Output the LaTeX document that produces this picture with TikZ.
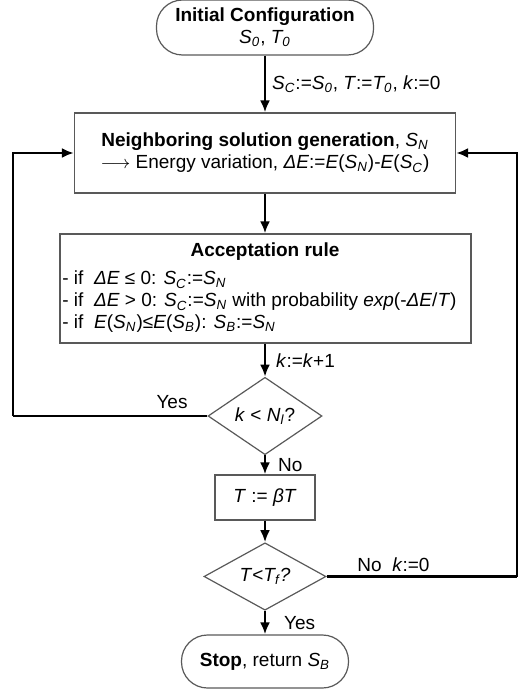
\documentclass[tikz,border=0pt]{standalone}
\usepackage{fontspec}
\setmainfont{Liberation Sans}
\usetikzlibrary{positioning,shapes.geometric,arrows.meta}
\newcommand{\vsub}[2]{\textit{#1\textsubscript{#2}}}
\tikzset{
  every node/.style={font=\fontsize{9.5}{11}\selectfont},
  terminal/.style={draw=black!65, line width=0.6pt, rounded corners=13pt, align=center, inner sep=0pt},
  process/.style={draw=black!65, line width=0.6pt, align=center, inner sep=0pt},
  decision/.style={diamond, draw=black!65, line width=0.6pt, inner sep=0pt},
  flow/.style={line width=1.2pt, -{Latex[length=6pt,width=5pt]}},
  loop/.style={line width=1.2pt},
  tag/.style={inner sep=0pt}
}

\begin{document}
\begin{tikzpicture}[x=0.5pt, y=-0.5pt]
    \useasboundingbox (0,0) rectangle (518,690);

    \node (init) [terminal, minimum width=108.5pt, minimum height=27.5pt] at (265,27.5)
        {\textbf{Initial Configuration}\\ \vsub{S}{0}, \vsub{T}{0}};
    \node (neigh) [process, minimum width=190.5pt, minimum height=40pt] at (265,153)
        {\textbf{Neighboring solution generation}, \vsub{S}{N}\\
         $\longrightarrow$ Energy variation, \textit{ΔE}:=\textit{E}(\vsub{S}{N})-\textit{E}(\vsub{S}{C})};
    \node (rule) [process, minimum width=205.5pt, minimum height=54.5pt] at (265.5,288.5) {};
    \node (ruletitle) [tag] at (265,252) {\textbf{Acceptation rule}};
    \node (ruletext) [tag, anchor=west, align=left] at (62,302)
        {- if\ \ \textit{ΔE} ≤ 0: \vsub{S}{C}:=\vsub{S}{N}\\
         - if\ \ \textit{ΔE} > 0: \vsub{S}{C}:=\vsub{S}{N} with probability \textit{exp}(-\textit{ΔE}/\textit{T})\\
         - if\ \ \textit{E}(\vsub{S}{N})≤\textit{E}(\vsub{S}{B}): \vsub{S}{B}:=\vsub{S}{N}};
    \node (inner) [decision, minimum width=57pt, minimum height=24pt] at (265,416)
        {\textit{k} < \vsub{N}{l}?};
    \node (cool) [process, minimum width=50pt, minimum height=22.5pt] at (265,497.5)
        {\textit{T} := \textit{βT}};
    \node (outer) [decision, minimum width=61pt, minimum height=25.5pt] at (265,576.5)
        {\textit{T}<\textit{T\textsubscript{f}?}};
    \node (stop) [terminal, minimum width=83.5pt, minimum height=26.5pt] at (265,661.5)
        {\textbf{Stop}, return \vsub{S}{B}};

    \coordinate (yesturn) at (13,416);
    \coordinate (noturn) at (517,576.5);

    \draw[flow] (init) -- node (initlbl) [tag, right=3pt] {\vsub{S}{C}:=\vsub{S}{0}, \textit{T}:=\vsub{T}{0}, \textit{k}:=0} (neigh);
    \draw[flow] (neigh) -- (neigh.south |- rule.north);
    \draw[flow] (rule.south -| inner.north) -- node (inclbl) [tag, right=5pt] {\textit{k}:=\textit{k}+1} (inner);
    \draw[flow] (inner) -- node (nolbl) [tag, right=6pt] {No} (cool);
    \draw[flow] (cool) -- (outer);
    \draw[flow] (outer) -- node (yeslbl) [tag, right=9pt] {Yes} (stop);

    \draw[loop] (inner.west) -- (yesturn);
    \draw[flow] (yesturn) |- (neigh.west);
    \node (yestag) [tag] at (172,402) {Yes};
    \draw[loop] (outer.east) -- (noturn);
    \draw[flow] (noturn) |- (neigh.east);
    \node (notag) [tag, anchor=west] at (357,565) {No\ \ \textit{k}:=0};
\end{tikzpicture}
\end{document}
